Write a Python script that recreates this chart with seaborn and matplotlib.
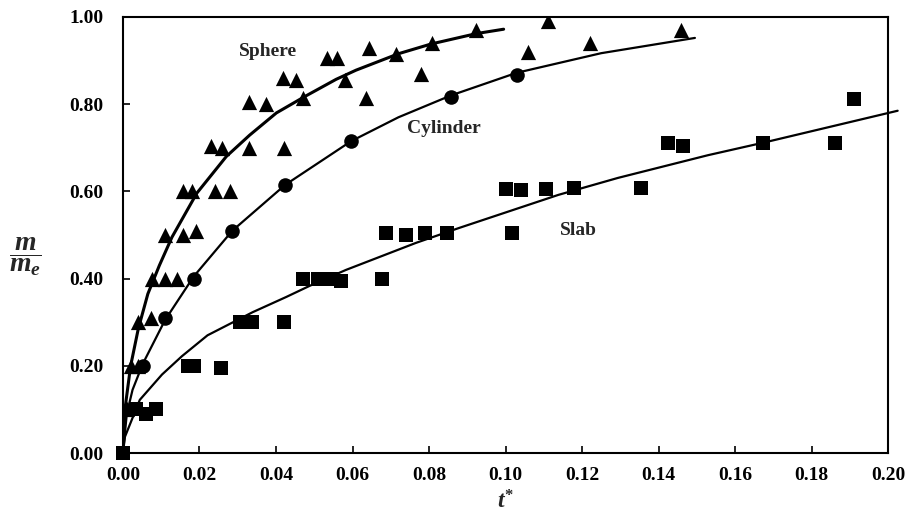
import numpy as np
import pandas as pd
import matplotlib
matplotlib.use("Agg")
import matplotlib.pyplot as plt
import seaborn as sns
from matplotlib.ticker import MultipleLocator, FormatStrFormatter

# measured points (t*, m/me)
sphere_t = [0.001, 0.002, 0.004, 0.0038, 0.0073, 0.0075, 0.011, 0.014,
            0.011, 0.0156, 0.019, 0.0156, 0.018, 0.024, 0.028,
            0.023, 0.026, 0.033, 0.042, 0.033, 0.0375, 0.047,
            0.0417, 0.0453, 0.058, 0.0534, 0.056, 0.0643, 0.0714,
            0.0635, 0.0807, 0.0779, 0.0924, 0.111, 0.106, 0.122, 0.1458]
sphere_m = [0.10, 0.20, 0.20, 0.30, 0.31, 0.40, 0.40, 0.40,
            0.50, 0.50, 0.51, 0.60, 0.60, 0.60, 0.60,
            0.705, 0.70, 0.70, 0.70, 0.805, 0.80, 0.815,
            0.86, 0.855, 0.855, 0.905, 0.905, 0.93, 0.915,
            0.815, 0.94, 0.87, 0.97, 0.99, 0.92, 0.94, 0.97]

cyl_t = [0.0052, 0.011, 0.0185, 0.0286, 0.0424, 0.0596, 0.0857, 0.1029]
cyl_m = [0.20, 0.31, 0.40, 0.51, 0.615, 0.715, 0.817, 0.868]

slab_t = [0.0, 0.0035, 0.006, 0.0085, 0.017, 0.0185, 0.0255,
          0.0305, 0.0336, 0.042, 0.047, 0.051, 0.0547, 0.057, 0.0677,
          0.0688, 0.074, 0.079, 0.0846, 0.1016, 0.100, 0.104, 0.1107,
          0.118, 0.1354, 0.1424, 0.1464, 0.1672, 0.1862, 0.1911]
slab_m = [0.0, 0.10, 0.09, 0.10, 0.20, 0.20, 0.195,
          0.30, 0.30, 0.30, 0.40, 0.40, 0.40, 0.395, 0.40,
          0.505, 0.50, 0.505, 0.505, 0.505, 0.605, 0.603, 0.605,
          0.607, 0.607, 0.71, 0.705, 0.71, 0.71, 0.812]

# model curves
sphere_fit_t = [0.0, 0.0005, 0.002, 0.004, 0.0065, 0.0095, 0.0128, 0.0193,
                0.027, 0.0331, 0.0401, 0.0474, 0.0557, 0.0609, 0.0721,
                0.0805, 0.0924, 0.0995]
sphere_fit_m = [0.0, 0.10, 0.20, 0.285, 0.365, 0.43, 0.495, 0.596,
                0.68, 0.729, 0.78, 0.817, 0.857, 0.878, 0.916,
                0.938, 0.962, 0.972]

cyl_fit_t = [0.0, 0.001, 0.0025, 0.0052, 0.011, 0.0185, 0.0286, 0.0424,
             0.0596, 0.072, 0.0857, 0.1029, 0.125, 0.1495]
cyl_fit_m = [0.0, 0.09, 0.145, 0.205, 0.305, 0.405, 0.51, 0.615,
             0.715, 0.77, 0.82, 0.872, 0.917, 0.952]

slab_fit_t = [0.0, 0.0005, 0.0044, 0.0102, 0.0154, 0.0221, 0.0339,
              0.0427, 0.0487, 0.0583, 0.0766, 0.0878, 0.1138, 0.1294,
              0.1529, 0.168, 0.2025]
slab_fit_m = [0.0, 0.037, 0.122, 0.18, 0.222, 0.27, 0.323,
              0.358, 0.383, 0.42, 0.482, 0.516, 0.592, 0.631,
              0.683, 0.713, 0.785]

sns.set_theme(style="ticks")
plt.rcParams["font.family"] = ["Liberation Serif", "DejaVu Serif"]
plt.rcParams["font.weight"] = "bold"
plt.rcParams["mathtext.fontset"] = "custom"
plt.rcParams["mathtext.rm"] = "Liberation Serif:bold"
plt.rcParams["mathtext.it"] = "Liberation Serif:italic:bold"

fig = plt.figure(figsize=(9.09, 5.23), dpi=100)
ax = fig.add_axes([0.1353, 0.1338, 0.8417, 0.8337])

sns.lineplot(x=sphere_fit_t, y=sphere_fit_m, sort=False, estimator=None,
             color="black", lw=2.2, ax=ax)
sns.lineplot(x=cyl_fit_t, y=cyl_fit_m, sort=False, estimator=None,
             color="black", lw=1.6, ax=ax)
sns.lineplot(x=slab_fit_t, y=slab_fit_m, sort=False, estimator=None,
             color="black", lw=1.6, ax=ax, clip_on=False)

sns.scatterplot(x=sphere_t, y=sphere_m, marker="^", s=120, color="black",
                edgecolor="black", linewidth=0, ax=ax, zorder=3)
sns.scatterplot(x=cyl_t, y=cyl_m, marker="o", s=110, color="black",
                edgecolor="black", linewidth=0, ax=ax, zorder=3)
sns.scatterplot(x=slab_t, y=slab_m, marker="s", s=115, color="black",
                edgecolor="black", linewidth=0, ax=ax, zorder=3, clip_on=False)

ax.set_xlim(0, 0.20)
ax.set_ylim(0, 1.0)
ax.xaxis.set_major_locator(MultipleLocator(0.02))
ax.yaxis.set_major_locator(MultipleLocator(0.2))
ax.xaxis.set_major_formatter(FormatStrFormatter("%.2f"))
ax.yaxis.set_major_formatter(FormatStrFormatter("%.2f"))
ax.tick_params(direction="in", length=5, width=1.2, labelsize=14,
               colors="black")
ax.tick_params(axis="y", pad=14)
ax.tick_params(axis="x", pad=10)
for sp in ax.spines.values():
    sp.set_visible(True)
    sp.set_color("black")
    sp.set_linewidth(1.5)

ax.set_xlabel(r"$t^{*}$", fontsize=17, va="center")
ax.xaxis.set_label_coords(0.5, -0.112)
ax.set_ylabel(r"$\dfrac{m}{m_e}$", fontsize=20, rotation=0,
              ha="center", va="center")
ax.yaxis.set_label_coords(-0.128, 0.45)

ax.text(0.038, 0.92, "Sphere", fontsize=14, ha="center", va="center")
ax.text(0.084, 0.745, "Cylinder", fontsize=14, ha="center", va="center")
ax.text(0.119, 0.51, "Slab", fontsize=14, ha="center", va="center")

fig.savefig("out.png", dpi=100)
